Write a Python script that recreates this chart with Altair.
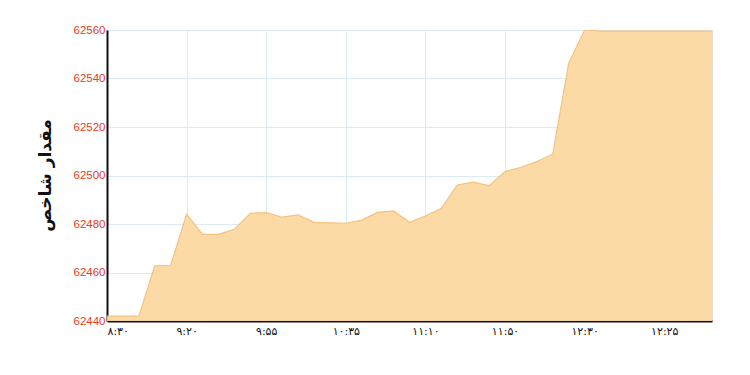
import altair as alt
import pandas as pd

values = [62442, 62442, 62442, 62462.7, 62463, 62484, 62475.7, 62475.7, 62477.8, 62484.4,
          62484.7, 62482.8, 62483.8, 62480.7, 62480.5, 62480.3, 62481.6, 62484.8, 62485.4, 62480.7,
          62483.3, 62486.5, 62496.1, 62497.3, 62495.8, 62501.6, 62503.4, 62505.7, 62508.9, 62546.3,
          62560, 62559.5, 62559.5, 62559.5, 62559.5, 62559.5, 62559.5, 62559.5, 62559.5]
tick_labels = ["۸:۳۰", "۹:۲۰", "۹:۵۵", "۱۰:۳۵", "۱۱:۱۰", "۱۱:۵۰", "۱۲:۳۰", "۱۲:۲۵"]
tick_step = 5
y_ticks = [62440, 62460, 62480, 62500, 62520, 62540, 62560]
y_title = "مقدار شاخص"

df = pd.DataFrame({"i": list(range(len(values))), "v": values})
label_arr = "[" + ",".join('"%s"' % t for t in tick_labels) + "]"

chart = alt.Chart(df).mark_area(
    color="#fcd79e", opacity=0.93, clip=True,
    line={"color": "#f6c27a", "strokeWidth": 1.2},
).encode(
    x=alt.X("i:Q", scale=alt.Scale(domain=[0, len(values) - 1], nice=False, zero=False),
            axis=alt.Axis(values=[k * tick_step for k in range(len(tick_labels))],
                          labelExpr=label_arr + "[round(datum.value/" + str(tick_step) + ")]",
                          title=None, ticks=False, labelPadding=4, labelFontSize=11,
                          labelFont="DejaVu Sans", labelColor="#111",
                          domainColor="#111", domainWidth=2,
                          grid=True, gridColor="#dceaf3", gridWidth=1)),
    y=alt.Y("v:Q", scale=alt.Scale(domain=[62440, 62560], nice=False, zero=False),
            axis=alt.Axis(values=y_ticks, format="d", title=y_title, ticks=False, labelPadding=2,
                          labelFontSize=11.5, labelFont="Liberation Sans", labelColor="#e2401a",
                          domainColor="#111", domainWidth=2,
                          grid=True, gridColor="#dceaf3", gridWidth=1,
                          titleFont="DejaVu Sans", titleFontSize=17, titleFontWeight="bold",
                          titleColor="#111", titleX=-62, titleY=145, titleAngle=-90,
                          titleAlign="center", titleBaseline="middle")),
).properties(
    width=605, height=291,
    autosize=alt.AutoSizeParams(type="none"),
    padding={"left": 107, "top": 30, "right": 38, "bottom": 54},
).configure_view(stroke=None).configure(background="white")

chart.save("out.html", embed_options={"renderer": "svg", "actions": False})
